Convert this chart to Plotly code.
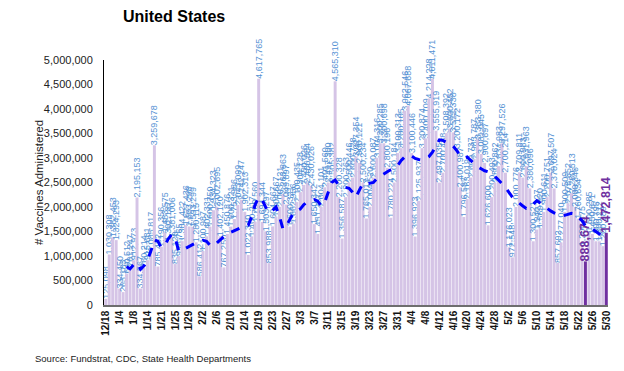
import pandas as pd
import plotly.graph_objects as go

# ---- categories (report dates) ----
EARLY_DATES = ["12/18", "12/21", "12/23", "12/30", "1/4", "1/5", "1/6", "1/7",
               "1/8", "1/11", "1/12", "1/13", "1/14", "1/15", "1/19", "1/20"]
_rng = pd.date_range("2021-01-21", "2021-05-30", freq="D")
_rng = _rng[_rng != pd.Timestamp("2021-02-15")]
DATES = EARLY_DATES + [f"{d.month}/{d.day}" for d in _rng]

TICK_LABELS = ["12/18", "1/4", "1/8", "1/14", "1/21", "1/25", "1/29", "2/2", "2/6",
               "2/10", "2/14", "2/19", "2/23", "2/27", "3/3", "3/7", "3/11", "3/15",
               "3/19", "3/23", "3/27", "3/31", "4/4", "4/8", "4/12", "4/16", "4/20",
               "4/24", "4/28", "5/2", "5/6", "5/10", "5/14", "5/18", "5/22", "5/26", "5/30"]

# ---- daily vaccines administered ----
DAILY = [
    125098, 1030308, 1382453, 1324293, 334450, 263183, 640512, 781247, 912973, 2195153,
    334567, 760214, 915681, 1085817, 3259678, 785432, 1190356, 1483575, 1302187, 1381006,
    835120, 998765, 1304422, 1627436, 1603298, 1593299, 1280115, 586412, 1100987, 1402331,
    1600750, 1934323, 2002695, 1402120, 767250, 1450876, 1600321, 1753986, 2043099, 2142247,
    1902313, 1022340, 1400217, 1700560, 4617765, 1694344, 1503297, 853988, 1604667, 1804667,
    2003121, 2263863, 2049897, 1600321, 1662956, 2100435, 2304128, 2450026, 2486884, 2430026,
    1650342, 1451287, 2004101, 2401560, 2497300, 2505382, 4565310, 2200328, 1356587, 2200763,
    2500446, 2600728, 3027354, 2900121, 2500234, 1765012, 2004520, 2600087, 3004316, 3300285,
    3300698, 2800196, 1780224, 2500184, 3100313, 3200105, 3962546, 4067688, 3100446, 1396923,
    2125937, 3200874, 3400109, 4214228, 4611471, 3555919, 2497035, 2700488, 3508392, 3600452,
    3522338, 3200172, 2400987, 1796587, 2163019, 2600737, 2983787, 3383380, 3081045, 2900697,
    1626600, 2200493, 2500862, 2834983, 3297526, 2700214, 1176023, 972548, 2000776, 2709811,
    2600583, 2831963, 2380096, 1300521, 1540127, 1569320, 1900611, 2200751, 2697507, 2378024,
    857692, 1277040, 1900509, 2078652, 2280513, 2000346, 1760634, 1200875, 888674, 1500285,
    1450671, 1300795, 1300212, 1200389, 1472814,
]

# ---- 7-day average (starts at 1/6) ----
AVG7 = [
    780000, 740000, 820000, 860000, 730000, 800000, 920000, 1100000, 1330000, 1300000,
    1170000, 1220000, 1350000, 1440000, 1360000, 1100000, 1120000, 1160000, 1200000, 1240000,
    1270000, 1290000, 1320000, 1300000, 1220000, 1200000, 1270000, 1350000, 1400000, 1450000,
    1480000, 1520000, 1550000, 1580000, 1620000, 1630000, 1800000, 2050000, 2200000, 2150000,
    2000000, 1880000, 1930000, 2000000, 1800000, 1550000, 1620000, 1750000, 1880000, 1920000,
    1960000, 2050000, 2100000, 2120000, 2150000, 2120000, 2020000, 2100000, 2300000, 2500000,
    2550000, 2450000, 2420000, 2400000, 2380000, 2300000, 2200000, 2350000, 2480000, 2470000,
    2480000, 2500000, 2580000, 2630000, 2680000, 2720000, 2760000, 2790000, 2850000, 2950000,
    3020000, 3060000, 3040000, 2990000, 2970000, 2960000, 2980000, 3030000, 3120000, 3240000,
    3370000, 3360000, 3320000, 3300000, 3240000, 3150000, 3050000, 3000000, 3020000, 2950000,
    2880000, 2820000, 2780000, 2740000, 2720000, 2670000, 2620000, 2550000, 2480000, 2400000,
    2300000, 2200000, 2140000, 2070000, 2020000, 1970000, 1980000, 2060000, 2130000, 2080000,
    2020000, 1960000, 1920000, 1880000, 1850000, 1820000, 1830000, 1850000, 1870000, 1860000,
    1800000, 1720000, 1620000, 1580000, 1550000, 1500000, 1450000, 1380000, 1320000,
]

HIGHLIGHT_DATES = ["5/24", "5/30"]

BAR_COLOR = "#d5c4e6"
HL_COLOR = "#7030a0"
LABEL_COLOR = "#5592d4"
FONT = "Liberation Sans, Arial, sans-serif"
NARROW = "Liberation Sans Narrow, Arial Narrow, Liberation Sans, sans-serif"

# the page body has an 8px margin: shrink the figure so it ends at the window edge
OFF = 8
W, H = 624 - OFF, 371 - OFF
PL, PR, PT, PB = 104, 608, 60, 305  # plot area in window pixels


def px(x):
    return (x - PL) / (PR - PL)


def py(y):
    return (PB - y) / (PB - PT)


base_text = ["" if d in HIGHLIGHT_DATES else f"{v:,}" for d, v in zip(DATES, DAILY)]
hl_vals = [v for d, v in zip(DATES, DAILY) if d in HIGHLIGHT_DATES]

fig = go.Figure()
fig.add_trace(go.Bar(
    x=DATES, y=DAILY, marker_color=BAR_COLOR, marker_line_width=0,
    text=base_text, textposition="outside", textangle=-90,
    textfont=dict(family=FONT, size=9, color=LABEL_COLOR),
    constraintext="none", cliponaxis=False, showlegend=False,
))
fig.add_trace(go.Bar(
    x=HIGHLIGHT_DATES, y=hl_vals, marker_color=HL_COLOR, marker_line_width=0,
    text=[f"{v:,}" for v in hl_vals], textposition="outside", textangle=-90,
    textfont=dict(family=FONT, size=12.5, color=HL_COLOR, weight="bold"),
    constraintext="none", cliponaxis=False, showlegend=False,
))
fig.add_trace(go.Scatter(
    x=DATES[len(DATES) - len(AVG7):], y=AVG7, mode="lines",
    line=dict(color="#0000ff", width=3, dash="dash"), showlegend=False,
))

fig.update_layout(
    width=W, height=H,
    margin=dict(l=PL - OFF, r=624 - PR, t=PT - OFF, b=371 - PB, pad=0),
    paper_bgcolor="white", plot_bgcolor="white",
    barmode="overlay", bargap=0.15,
    font=dict(family=FONT, color="#222222"),
    xaxis=dict(
        type="category", categoryorder="array", categoryarray=DATES,
        tickmode="array", tickvals=TICK_LABELS, ticktext=TICK_LABELS,
        tickangle=-90, tickfont=dict(family=FONT, size=10, color="#111111", weight="bold"),
        showgrid=False, showline=True, linecolor="#6e6e6e", linewidth=1.5,
        ticks="", zeroline=False, automargin=False,
    ),
    yaxis=dict(
        range=[0, 5000000], tickmode="array",
        tickvals=[0, 500000, 1000000, 1500000, 2000000, 2500000, 3000000, 3500000, 4000000, 4500000, 5000000],
        ticktext=["0", "500,000", "1,000,000", "1,500,000", "2,000,000", "2,500,000",
                  "3,000,000", "3,500,000", "4,000,000", "4,500,000", "5,000,000"],
        tickfont=dict(family=FONT, size=11, color="#222222"),
        showgrid=False, showline=True, linecolor="#000000", linewidth=1,
        ticks="", ticklabelstandoff=8, zeroline=False, automargin=False,
    ),
    annotations=[
        dict(text="<b>United States</b>", xref="paper", yref="paper",
             x=px(174), y=py(16), xanchor="center", yanchor="middle",
             showarrow=False, font=dict(family=NARROW, size=16, color="#000000")),
        dict(text="# Vaccines Administered", xref="paper", yref="paper",
             x=px(39), y=py(183), xanchor="center", yanchor="middle",
             textangle=-90, showarrow=False, font=dict(family=FONT, size=11.5, color="#222222")),
        dict(text="Source: Fundstrat, CDC, State Health Departments", xref="paper", yref="paper",
             x=px(33), y=py(358), xanchor="left", yanchor="middle",
             showarrow=False, font=dict(family=NARROW, size=9.5, color="#222222")),
    ],
)

fig.write_html("out.html")
